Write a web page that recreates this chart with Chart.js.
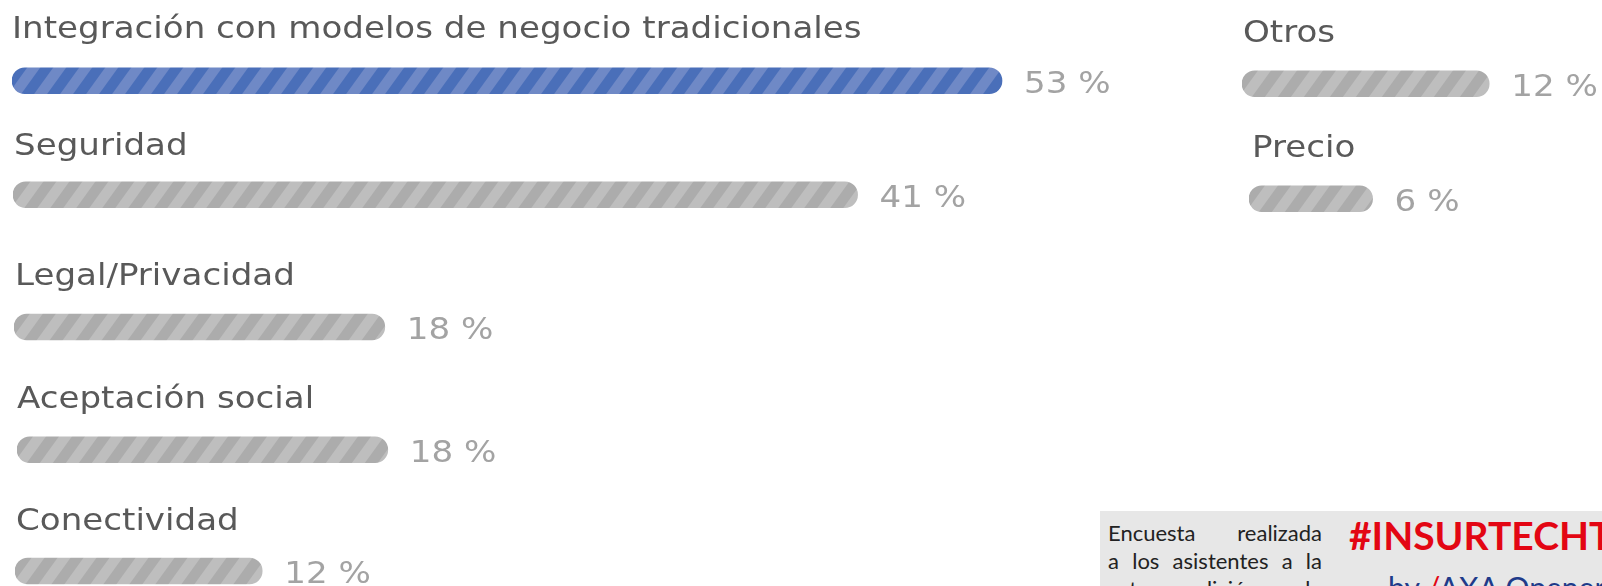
<!DOCTYPE html>
<html>
<head>
<meta charset="utf-8">
<script src="https://cdn.jsdelivr.net/npm/chart.js@4/dist/chart.umd.min.js"></script>
<style>
  body { margin: 0; background: #fff; width: 1602px; height: 586px; overflow: hidden; position: relative; }
  canvas { position: absolute; }
  #nota { position: absolute; left: 1100px; top: 511px; right: 0; bottom: 0; background: #e7e7e7; overflow: hidden; }
  #nota .txt { position: absolute; left: 8px; top: 8px; width: 214px; font: 22px Lato, sans-serif; line-height: 28px; color: #222; }
  #nota .txt div { text-align: justify; text-align-last: justify; white-space: nowrap; }
  #nota .tag { position: absolute; left: 249px; top: 1px; font: bold 39px Lato, sans-serif; color: #e30613; white-space: nowrap; }
  #nota .by { position: absolute; left: 288px; top: 58px; font: 30px Lato, sans-serif; color: #1f3b8a; white-space: nowrap; }
  #nota .by span { color: #e30613; }
</style>
</head>
<body>
<div id="nota">
  <div class="txt"><div>Encuesta realizada</div><div>a los asistentes a la</div><div>esta edición de</div></div>
  <div class="tag">#INSURTECHTALKS</div>
  <div class="by">by <span>/</span>AXA Opener</div>
</div>
<script>
// encuesta: principales barreras
const categories = ['Integración con modelos de negocio tradicionales', 'Seguridad', 'Legal/Privacidad',
                    'Aceptación social', 'Conectividad', 'Otros', 'Precio'];
const values = [53, 41, 18, 18, 12, 12, 6];
const highlight = 0;

// where each little bar sits on the page (barX, labelX, label baseline, bar centre, canvas width)
const panels = [
  [12, 12, 38, 80.5, 1150],
  [13, 14, 155, 194.5, 1150],
  [14, 15, 285, 327, 1150],
  [17, 17, 408, 449.5, 1150],
  [15, 16, 530, 571, 1150],
  [1242, 1243, 42, 83.5, 360],
  [1249, 1252, 157, 198.5, 353]
];
const pxPerPct = 20.6;
const topBarPx = 990; // the first bar is drawn shorter in the original
const stretch = 1.1;  // the original text is a bit wider than DejaVu

// slanted stripes, 26px apart, a bit steeper than 45deg
function stripes(dark, light) {
  const w = 26, h = 36;
  const c = document.createElement('canvas');
  c.width = w; c.height = h;
  const g = c.getContext('2d');
  g.fillStyle = dark;
  g.fillRect(0, 0, w, h);
  g.fillStyle = light;
  g.beginPath();
  g.moveTo(w / 2, 0); g.lineTo(w, 0); g.lineTo(0, h); g.lineTo(0, h / 2);
  g.closePath(); g.fill();
  g.beginPath();
  g.moveTo(w, h / 2); g.lineTo(w, h); g.lineTo(w / 2, h);
  g.closePath(); g.fill();
  return g.createPattern(c, 'repeat');
}

function wideText(ctx, txt, x, y) {
  ctx.save();
  ctx.translate(x, y);
  ctx.scale(stretch, 1);
  ctx.fillText(txt, 0, 0);
  ctx.restore();
}

const textPlugin = {
  id: 'texts',
  afterDatasetsDraw(chart, args, opts) {
    const ctx = chart.ctx;
    const bar = chart.getDatasetMeta(0).data[0];
    ctx.save();
    ctx.font = '31px "DejaVu Sans"';
    ctx.textBaseline = 'alphabetic';
    ctx.fillStyle = '#595959';
    wideText(ctx, opts.label, opts.labelX, opts.baseline);
    ctx.fillStyle = '#a3a3a3';
    ctx.textBaseline = 'middle';
    wideText(ctx, opts.value + ' %', bar.x + 22, bar.y + 4);
    ctx.restore();
  }
};

categories.forEach(function(cat, i) {
  const p = panels[i];
  const left = p[0] - 1;
  const top = p[2] - 38;
  const centre = p[3] - top;
  const w = p[4];
  const h = Math.ceil(centre + 17);
  const cv = document.createElement('canvas');
  cv.width = w; cv.height = h;
  cv.style.left = left + 'px';
  cv.style.top = top + 'px';
  document.body.appendChild(cv);

  const plotW = w - 2;
  let max = plotW / pxPerPct;
  if (i === highlight) max = values[i] * plotW / topBarPx;

  const fill = i === highlight ? stripes('#4a6fb9', '#6f89c6') : stripes('#acacac', '#bebebe');

  new Chart(cv.getContext('2d'), {
    type: 'bar',
    data: {
      labels: [cat],
      datasets: [{
        data: [values[i]],
        backgroundColor: fill,
        borderRadius: 13,
        borderSkipped: false,
        barThickness: 26
      }]
    },
    options: {
      indexAxis: 'y',
      responsive: false,
      animation: false,
      layout: { padding: { left: 1, right: 1, top: centre - 14, bottom: 3 } },
      scales: {
        x: { display: false, min: 0, max: max },
        y: { display: false }
      },
      plugins: {
        legend: { display: false },
        tooltip: { enabled: false },
        texts: { label: cat, value: values[i], labelX: p[1] - left, baseline: 38 }
      }
    },
    plugins: [textPlugin]
  });
});
</script>
</body>
</html>
